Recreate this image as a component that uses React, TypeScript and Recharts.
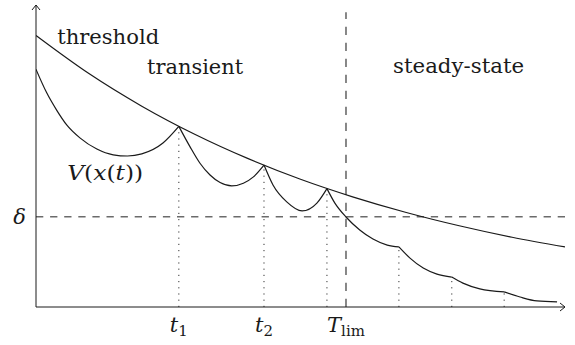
import { LineChart, Line, XAxis, YAxis, ReferenceLine, ReferenceDot } from "recharts";

// threshold curve, read at whole x steps
const thresholdX = [0, 1, 2, 3, 4, 5, 6, 7, 8, 9, 10];
const thresholdY = [8.99, 7.73, 6.65, 5.72, 4.92, 4.23, 3.64, 3.13, 2.69, 2.31, 1.99];

// V(x(t)) curve points, the peaks / kinks are listed again below
const vX = [
  0, 0.2, 0.39, 0.58, 0.83, 1.15, 1.46, 1.73, 2.0, 2.4, 2.7,
  2.91, 3.1, 3.29, 3.48, 3.7, 3.92, 4.11, 4.31,
  4.48, 4.74, 5.03, 5.31, 5.5,
  5.65, 5.86, 6.12, 6.37, 6.64, 6.86,
  7.07, 7.32, 7.58, 7.86,
  8.07, 8.39, 8.85,
  9.15, 9.47, 9.85,
];
const vY = [
  7.87, 7.1, 6.52, 6.03, 5.6, 5.23, 5.04, 5.0, 5.07, 5.43, 5.98,
  5.31, 4.76, 4.37, 4.12, 4.01, 4.1, 4.31, 4.7,
  4.04, 3.48, 3.18, 3.44, 3.92,
  3.44, 2.98, 2.55, 2.25, 2.05, 1.99,
  1.62, 1.29, 1.09, 0.99,
  0.79, 0.6, 0.5,
  0.33, 0.2, 0.17,
];

// event times (dotted drops) and their values
const peakX = [2.7, 4.31, 5.5, 6.86, 7.86, 8.85];
const peakY = [5.98, 4.7, 3.92, 1.99, 0.99, 0.5];

const deltaLevel = 2.99;
const tLim = 5.86;
const tickX = [2.7, 4.31, 5.86];
const tickMain = ["t", "t", "T"];
const tickSub = ["1", "2", "lim"];

const FONT = "'DejaVu Serif', 'Liberation Serif', serif";
const INK = "#1a1a1a";
const DASH = "#6b6b6b";

const thresholdData = thresholdX.map((x, i) => ({ x, y: thresholdY[i] }));

// split V into pieces at the peaks so each one keeps its corner
const vSegments: { x: number; y: number }[][] = [];
let cur: { x: number; y: number }[] = [];
vX.forEach((x, i) => {
  cur.push({ x, y: vY[i] });
  if (peakX.includes(x)) {
    vSegments.push(cur);
    cur = [{ x, y: vY[i] }];
  }
});
if (cur.length > 1) vSegments.push(cur);

const txt = { fontFamily: FONT, fontSize: 21, fill: INK };
const it = { fontStyle: "italic" };

const XTick = (props: any) => {
  const { x, y, payload } = props;
  const i = tickX.indexOf(payload.value);
  return (
    <text x={x} y={y + 17} textAnchor="middle" style={txt}>
      <tspan style={it}>{tickMain[i]}</tspan>
      <tspan style={{ fontSize: 15 }} dy={4}>
        {tickSub[i]}
      </tspan>
    </text>
  );
};

const YTick = (props: any) => {
  const { x, y } = props;
  return (
    <text x={x - 2} y={y + 7} textAnchor="end" style={{ ...txt, ...it }}>
      δ
    </text>
  );
};

const word = (text: string, w: number) => (p: any) =>
  (
    <text x={p.cx} y={p.cy} style={txt} textLength={w} lengthAdjust="spacingAndGlyphs">
      {text}
    </text>
  );

const vLabel = (p: any) => (
  <text x={p.cx} y={p.cy} style={txt} textLength={76} lengthAdjust="spacingAndGlyphs">
    <tspan style={it}>V</tspan>(<tspan style={it}>x</tspan>(<tspan style={it}>t</tspan>))
  </text>
);

const arrowRight = (p: any) => (
  <path d={`M${p.cx - 5},${p.cy - 4} L${p.cx},${p.cy} L${p.cx - 5},${p.cy + 4}`} fill="none" stroke={INK} strokeWidth={1} />
);
const arrowUp = (p: any) => (
  <path d={`M${p.cx - 4},${p.cy + 5} L${p.cx},${p.cy} L${p.cx + 4},${p.cy + 5}`} fill="none" stroke={INK} strokeWidth={1} />
);

export default function App() {
  return (
    <div style={{ position: "absolute", left: 0, top: 0, width: 575, height: 345, background: "#fff" }}>
      <LineChart width={575} height={345} margin={{ top: 5, right: 10, bottom: 8, left: 0 }}>
        <XAxis
          type="number"
          dataKey="x"
          domain={[0, 10]}
          ticks={tickX}
          tick={<XTick />}
          tickLine={false}
          height={30}
          axisLine={{ stroke: INK, strokeWidth: 1 }}
          allowDataOverflow
        />
        <YAxis
          type="number"
          dataKey="y"
          domain={[0, 10]}
          ticks={[deltaLevel]}
          tick={<YTick />}
          tickLine={false}
          width={36}
          axisLine={{ stroke: INK, strokeWidth: 1 }}
          allowDataOverflow
        />

        <ReferenceLine y={deltaLevel} stroke={DASH} strokeWidth={1.5} strokeDasharray="7.3 6.8" />
        <ReferenceLine
          segment={[
            { x: tLim, y: 0 },
            { x: tLim, y: 9.76 },
          ]}
          stroke={DASH}
          strokeWidth={1.6}
          strokeDasharray="8.3 7.7"
        />
        {peakX.map((px, i) => (
          <ReferenceLine
            key={"drop" + i}
            segment={[
              { x: px, y: 0 },
              { x: px, y: peakY[i] },
            ]}
            stroke="#333"
            strokeWidth={1}
            strokeDasharray="1.2 5"
          />
        ))}

        <Line
          data={thresholdData}
          dataKey="y"
          type="monotone"
          stroke={INK}
          strokeWidth={1.2}
          dot={false}
          activeDot={false}
          isAnimationActive={false}
        />
        {vSegments.map((seg, i) => (
          <Line
            key={"v" + i}
            data={seg}
            dataKey="y"
            type="monotone"
            stroke={INK}
            strokeWidth={1.2}
            dot={false}
            activeDot={false}
            isAnimationActive={false}
          />
        ))}

        <ReferenceDot x={10} y={0} r={0} shape={arrowRight} />
        <ReferenceDot x={0} y={10} r={0} shape={arrowUp} />
        <ReferenceDot x={0.4} y={8.7} r={0} shape={word("threshold", 102)} />
        <ReferenceDot x={2.1} y={7.72} r={0} shape={word("transient", 96)} />
        <ReferenceDot x={6.75} y={7.76} r={0} shape={word("steady-state", 131)} />
        <ReferenceDot x={0.59} y={4.21} r={0} shape={vLabel} />
      </LineChart>
    </div>
  );
}
